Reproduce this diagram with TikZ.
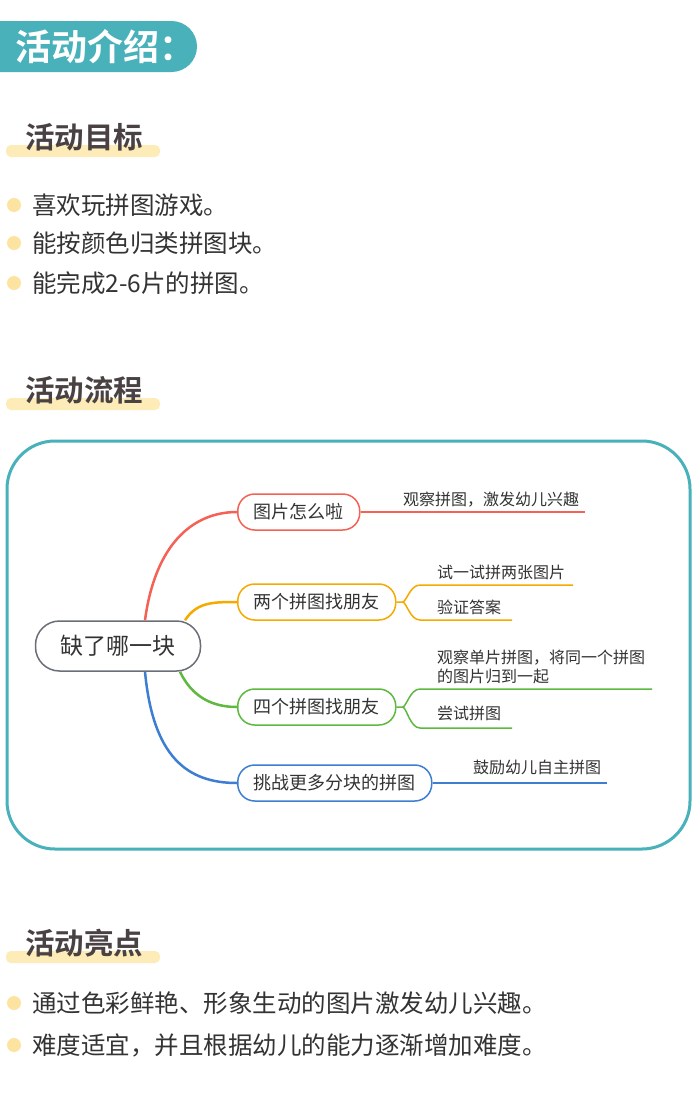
\documentclass[tikz,border=0pt]{standalone}
\usepackage{fontspec}
\setmainfont{Noto Sans CJK SC}
\newfontfamily\cjkb{Noto Sans CJK SC Bold}
\definecolor{hdteal}{HTML}{48B1BA}
\definecolor{hlbar}{HTML}{FDEBB8}
\definecolor{ydot}{HTML}{FDE3A0}
\definecolor{tx}{HTML}{333333}
\definecolor{ttl}{HTML}{4A4242}
\definecolor{cr}{HTML}{F46155}
\definecolor{co}{HTML}{F5AA00}
\definecolor{cg}{HTML}{5DB93F}
\definecolor{cb}{HTML}{3D7ED2}
\definecolor{cgr}{HTML}{6B6E78}
\tikzset{
  ttlbox/.style={anchor=west,font=\cjkb\fontsize{29.5}{32}\selectfont,text=ttl,inner sep=0},
  bul/.style={anchor=west,font=\fontsize{24.5}{28}\selectfont,text=tx,inner sep=0},
  mnode/.style={draw,line width=1.5pt,rounded corners=17pt,minimum height=36pt,anchor=west,font=\fontsize{18}{20}\selectfont,text=tx,inner xsep=16pt},
  mtext/.style={anchor=south west,font=\fontsize{16}{19}\selectfont,text=tx,inner sep=1pt,align=left},
  br/.style={line width=2.5pt},
  lf/.style={line width=1.5pt}
}
\begin{document}
\begin{tikzpicture}[x=1pt,y=-1pt]
\useasboundingbox (0,0) rectangle (700,1095);
\fill[white] (0,0) rectangle (700,1095);
% header
\begin{scope}
\clip (0,0) rectangle (700,1095);
\fill[hdteal,rounded corners=25.5pt] (-40,21) rectangle (197,72);
\end{scope}
\node[anchor=west,text=white,font=\cjkb\fontsize{36}{40}\selectfont,inner sep=0] (hd) at (15,47) {活动介绍：};
% section 1
\fill[hlbar,rounded corners=5pt] (6,145) rectangle (160,157);
\node[ttlbox] (t1) at (25,137) {活动目标};
\foreach \y/\t [count=\i] in {205/喜欢玩拼图游戏。,243/能按颜色归类拼图块。,283/能完成2-6片的拼图。}{
  \fill[ydot] (14,\y) circle (7);
  \node[bul] (b\i) at (32,\y) {\t};
}
% section 2
\fill[hlbar,rounded corners=5pt] (6,398) rectangle (160,410);
\node[ttlbox] (t2) at (25,390) {活动流程};
\draw[hdteal,line width=3pt,rounded corners=48pt] (7,441) rectangle (690,849);
\node[draw=cgr,line width=1.5pt,rounded corners=24pt,minimum width=165pt,minimum height=50pt,font=\fontsize{23}{26}\selectfont,text=tx] (c) at (118,646) {缺了哪一块};
\node[mnode,draw=cr] (n1) at (237,512) {图片怎么啦};
\node[mnode,draw=co] (n2) at (237,602) {两个拼图找朋友};
\node[mnode,draw=cg] (n3) at (237,707) {四个拼图找朋友};
\node[mnode,draw=cb] (n4) at (237,783) {挑战更多分块的拼图};
\draw[br,cr] ([xshift=27pt]c.north) .. controls +(10,-75) and +(-45,0) .. (n1.west);
\draw[br,co] ([xshift=67pt]c.north) .. controls +(12,-18) and +(-25,0) .. (n2.west);
\draw[br,cg] ([xshift=62pt]c.south) .. controls +(12,25) and +(-25,0) .. (n3.west);
\draw[br,cb] ([xshift=27pt]c.south) .. controls +(8,85) and +(-50,0) .. (n4.west);
% leaves
\coordinate (e1) at (585,512);
\draw[lf,cr] (n1.east) -- (e1);
\node[mtext] (l1) at (402,508) {观察拼图，激发幼儿兴趣};
\coordinate (e2a) at (573,585); \coordinate (e2b) at (512,620);
\draw[lf,co] (n2.east) -- ++(6,0) coordinate (k2) .. controls +(4,0) and +(-10,0) .. (420,585) -- (e2a);
\draw[lf,co] (k2) .. controls +(4,0) and +(-10,0) .. (420,620) -- (e2b);
\node[mtext] (l2) at (436,581) {试一试拼两张图片};
\node[mtext] (l3) at (436,616) {验证答案};
\coordinate (e3a) at (652,689); \coordinate (e3b) at (512,728);
\draw[lf,cg] (n3.east) -- ++(6,0) coordinate (k3) .. controls +(4,0) and +(-10,0) .. (420,689) -- (e3a);
\draw[lf,cg] (k3) .. controls +(4,0) and +(-10,0) .. (420,728) -- (e3b);
\node[mtext] (l4) at (436,685) {观察单片拼图，将同一个拼图\\的图片归到一起};
\node[mtext] (l5) at (436,722) {尝试拼图};
\coordinate (e4) at (607,783);
\draw[lf,cb] (n4.east) -- (e4);
\node[mtext] (l6) at (472,776) {鼓励幼儿自主拼图};
% section 3
\fill[hlbar,rounded corners=5pt] (6,951) rectangle (160,963);
\node[ttlbox] (t3) at (25,943) {活动亮点};
\foreach \y/\t [count=\i] in {1003/通过色彩鲜艳、形象生动的图片激发幼儿兴趣。,1045/难度适宜，并且根据幼儿的能力逐渐增加难度。}{
  \fill[ydot] (14,\y) circle (7);
  \node[bul] (d\i) at (32,\y) {\t};
}
\end{tikzpicture}
\end{document}
